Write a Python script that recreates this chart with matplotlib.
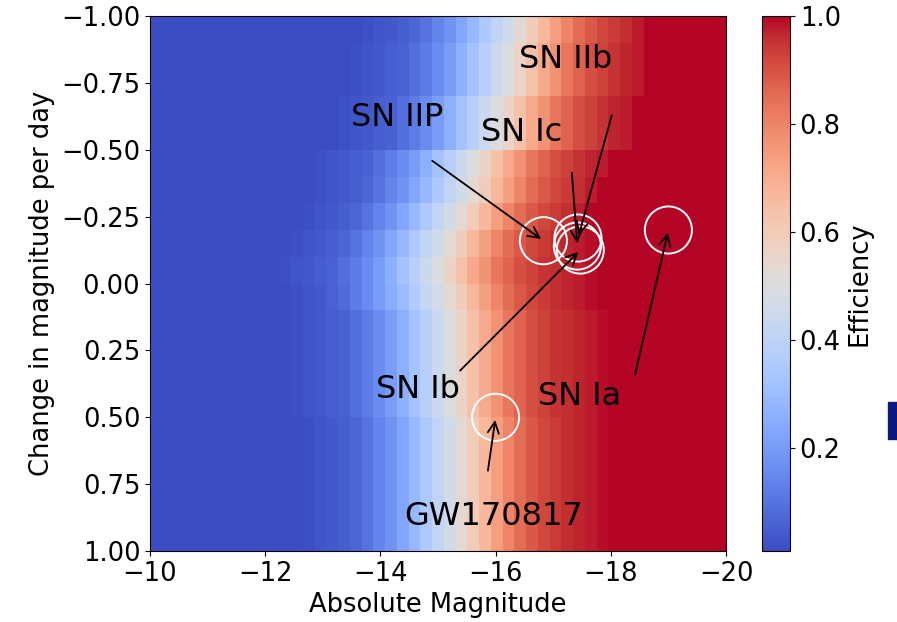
import numpy as np
import matplotlib
matplotlib.use('Agg')
import matplotlib.pyplot as plt
from matplotlib.patches import Rectangle

# grid edges: absolute magnitude (49 cells) and change in magnitude per day (20 cells)
mag_edges = np.linspace(-10, -20, 50)
dm_edges = np.linspace(-1, 1, 21)

# efficiency per row (row -1.0..-0.9 first), columns from -10 to -20
eff_r00 = [0.01] * 18 + [0.02, 0.03, 0.04, 0.05, 0.07, 0.10, 0.14, 0.18, 0.23, 0.29, 0.35, 0.41, 0.46,
                         0.53, 0.60, 0.67, 0.74, 0.80, 0.85, 0.89, 0.92, 0.94, 0.96, 0.98] + [1] * 7
eff_r01 = [0.01] * 17 + [0.02, 0.03, 0.04, 0.05, 0.06, 0.09, 0.12, 0.16, 0.20, 0.26, 0.32, 0.38, 0.44, 0.50,
                         0.57, 0.64, 0.71, 0.77, 0.83, 0.87, 0.91, 0.93, 0.95, 0.97, 0.98] + [1] * 7
eff_r03 = [0.01] * 16 + [0.02, 0.03, 0.04, 0.05, 0.06, 0.09, 0.12, 0.16, 0.20, 0.26, 0.32, 0.38, 0.44, 0.50,
                         0.57, 0.64, 0.71, 0.77, 0.83, 0.87, 0.91, 0.93, 0.95, 0.97, 0.98] + [1] * 8
eff_r05 = [0.01] * 14 + [0.02, 0.03, 0.04, 0.05, 0.06, 0.09, 0.12, 0.16, 0.20, 0.26, 0.32, 0.38, 0.44, 0.50,
                         0.57, 0.64, 0.71, 0.77, 0.83, 0.87, 0.91, 0.93, 0.95, 0.97, 0.98] + [1] * 10
eff_r06 = [0.01] * 14 + [0.02, 0.03, 0.04, 0.05, 0.07, 0.10, 0.14, 0.18, 0.23, 0.29, 0.35, 0.41, 0.46,
                         0.53, 0.60, 0.67, 0.74, 0.80, 0.85, 0.89, 0.92, 0.94, 0.96, 0.98] + [1] * 11
eff_r07 = [0.01] * 13 + [0.02, 0.03, 0.04, 0.05, 0.07, 0.10, 0.14, 0.18, 0.23, 0.29, 0.35, 0.41, 0.46,
                         0.53, 0.60, 0.67, 0.74, 0.80, 0.85, 0.89, 0.92, 0.94, 0.96, 0.98] + [1] * 12
eff_r08 = [0.01] * 12 + [0.02, 0.03, 0.04, 0.05, 0.07, 0.10, 0.14, 0.18, 0.23, 0.29, 0.35, 0.41, 0.46,
                         0.53, 0.60, 0.67, 0.74, 0.80, 0.85, 0.89, 0.92, 0.94, 0.96, 0.97, 0.98, 0.99] + [1] * 11
eff_r09 = [0.01] * 11 + [0.02, 0.03, 0.04, 0.05, 0.06, 0.09, 0.12, 0.16, 0.20, 0.26, 0.32, 0.38, 0.44, 0.50,
                         0.57, 0.64, 0.71, 0.77, 0.83, 0.87, 0.91, 0.93, 0.95, 0.96, 0.97, 0.98, 0.99] + [1] * 11
eff_r10 = [0.01] * 12 + [0.02, 0.03, 0.04, 0.06, 0.08, 0.12, 0.16, 0.20, 0.25, 0.30, 0.36, 0.42, 0.47,
                         0.53, 0.60, 0.67, 0.74, 0.80, 0.85, 0.89, 0.92, 0.94, 0.96, 0.97, 0.98, 0.99] + [1] * 11
eff_r11 = [0.01] * 12 + [0.02, 0.03, 0.04, 0.05, 0.06, 0.09, 0.12, 0.16, 0.20, 0.26, 0.32, 0.38, 0.44, 0.50,
                         0.57, 0.64, 0.71, 0.77, 0.83, 0.87, 0.91, 0.93, 0.95, 0.96, 0.97, 0.98, 0.99] + [1] * 10
eff_r15 = [0.01] * 13 + [0.02, 0.03, 0.04, 0.05, 0.07, 0.10, 0.14, 0.18, 0.23, 0.29, 0.35, 0.41, 0.46,
                         0.53, 0.60, 0.67, 0.74, 0.80, 0.85, 0.89, 0.92, 0.94, 0.96, 0.97, 0.98, 0.99] + [1] * 10

efficiency = np.array([eff_r00, eff_r01, eff_r01, eff_r03, eff_r03, eff_r05, eff_r06, eff_r07,
                       eff_r08, eff_r09, eff_r10, eff_r11, eff_r11, eff_r11, eff_r11,
                       eff_r15, eff_r15, eff_r15, eff_r15, eff_r15])

# transients: position, label position, arrow start
names = ['SN IIP', 'SN Ic', 'SN IIb', 'SN Ib', 'SN Ia', 'GW170817']
obj_mag = [-16.83, -17.42, -17.43, -17.47, -19.0, -16.0]
obj_dm = [-0.16, -0.14, -0.17, -0.125, -0.2, 0.5]
label_mag = [-14.3, -16.45, -17.22, -14.65, -17.45, -15.96]
label_dm = [-0.59, -0.533, -0.807, 0.428, 0.454, 0.903]
start_mag = [-14.86, -17.32, -18.03, -15.35, -18.41, -15.86]
start_dm = [-0.465, -0.424, -0.639, 0.333, 0.351, 0.71]

fig = plt.figure(figsize=(8.97, 6.22), dpi=100)
ax = fig.add_axes([150 / 897, 71 / 622, 576 / 897, 535 / 622])
cax = fig.add_axes([762 / 897, 71 / 622, 28 / 897, 535 / 622])

mesh = ax.pcolormesh(mag_edges, dm_edges, efficiency, cmap='coolwarm')
ax.scatter(obj_mag, obj_dm, s=1150, facecolors='none', edgecolors='white', linewidths=1.4)

for i in range(len(names)):
    ax.annotate('', xy=(obj_mag[i], obj_dm[i]), xytext=(start_mag[i], start_dm[i]),
                arrowprops=dict(arrowstyle='->', color='black', lw=1.3, mutation_scale=20))
    ax.text(label_mag[i], label_dm[i], names[i], fontsize=23, ha='center', va='baseline')

ax.set_xlim(-10, -20)
ax.set_ylim(1, -1)
ax.set_xticks([-10, -12, -14, -16, -18, -20])
ax.set_yticks([-1, -0.75, -0.5, -0.25, 0, 0.25, 0.5, 0.75, 1])
ax.tick_params(labelsize=18.5)
ax.set_xlabel('Absolute Magnitude', fontsize=18.5)
ax.set_ylabel('Change in magnitude per day', fontsize=18.5)

cbar = fig.colorbar(mesh, cax=cax)
cbar.ax.tick_params(labelsize=18.5)
cbar.set_label('Efficiency', fontsize=18.5)

fig.patches.append(Rectangle((888 / 897, 183 / 622), 12 / 897, 37 / 622,
                             transform=fig.transFigure, color='#0a1a7f'))

fig.savefig('out.png', dpi=100)
